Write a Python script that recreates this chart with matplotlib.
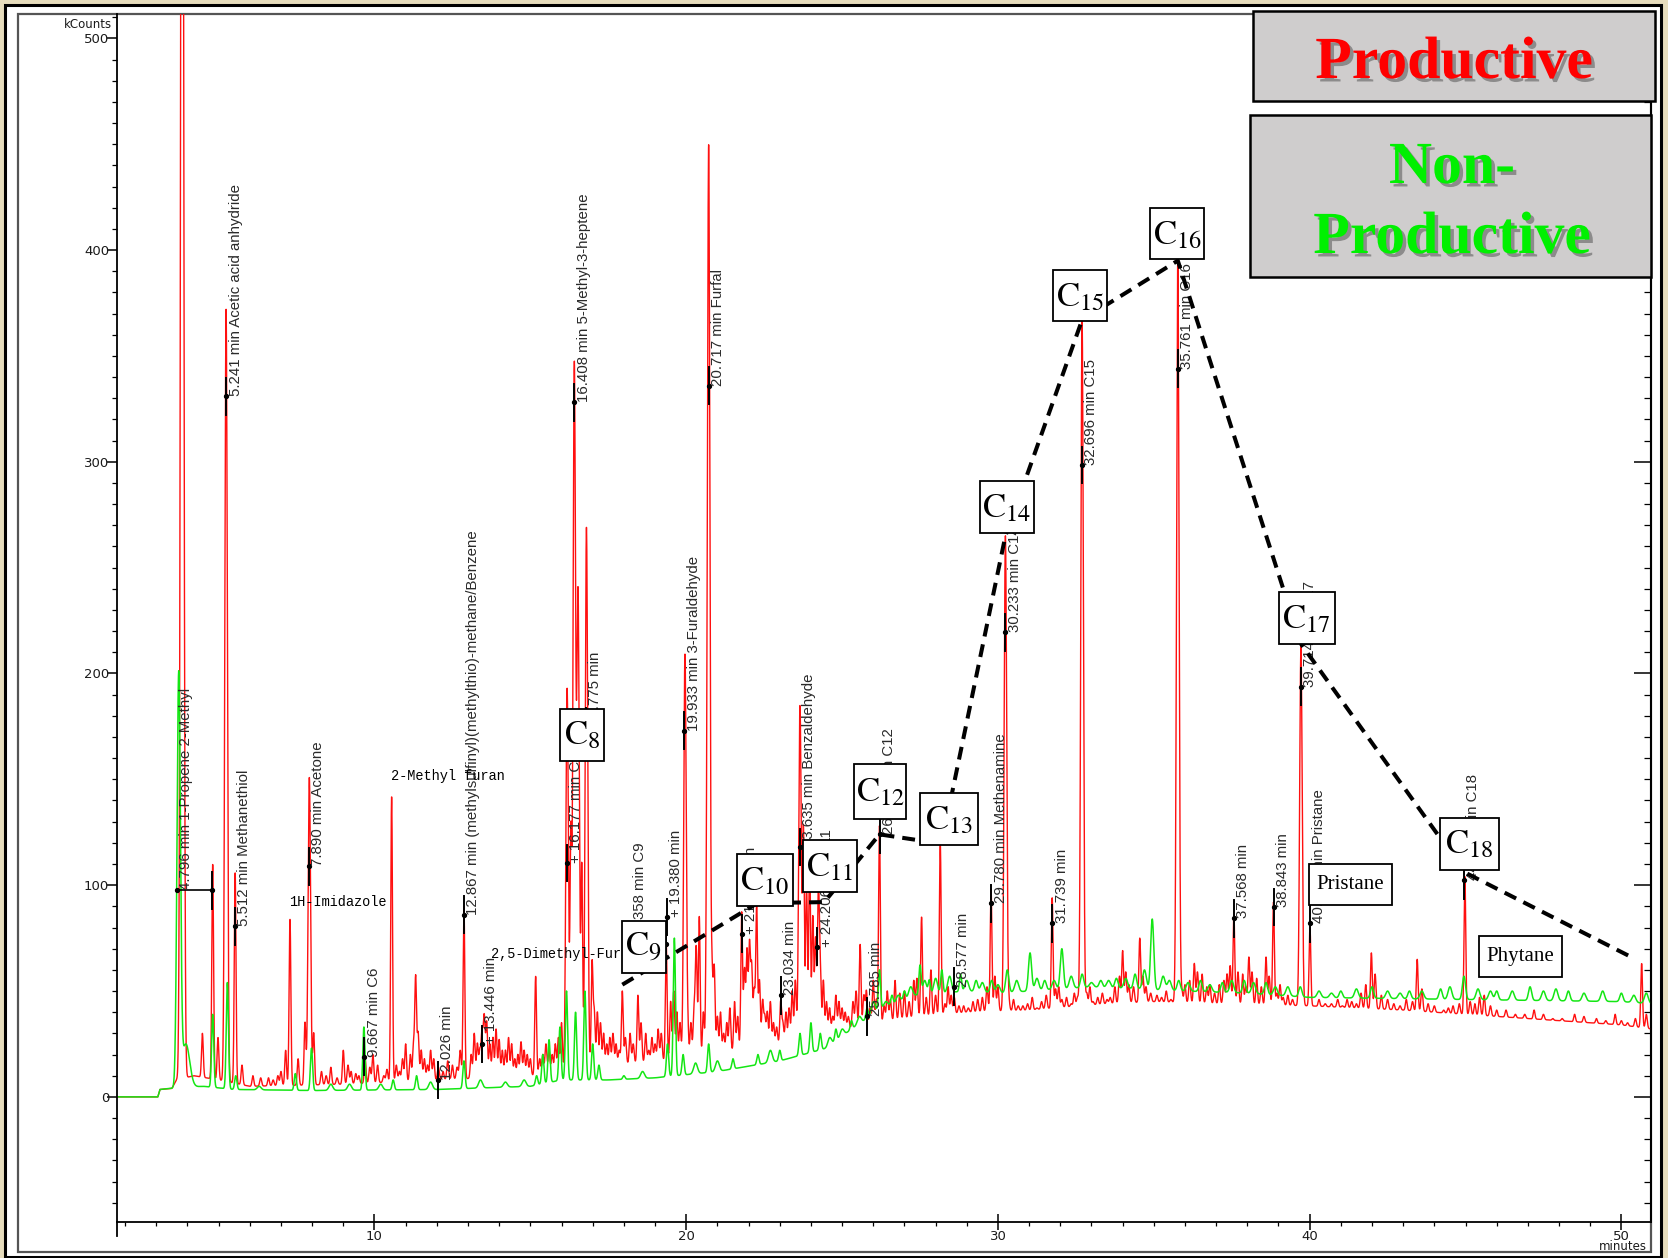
import numpy as np
import matplotlib
matplotlib.use("Agg")
import matplotlib.pyplot as plt
from matplotlib.patches import Rectangle
from matplotlib.lines import Line2D
from matplotlib.ticker import MultipleLocator
import matplotlib.patheffects as pe

plt.rcParams["mathtext.fontset"] = "stix"

# ---------------------------------------------------------------- data
# Productive sample (red): baseline knots (min, kCounts)
red_base_t = [1.74, 3.05, 3.12, 3.5, 3.65, 4.2, 5.0, 6.0, 9.0, 12.0, 15.0, 17.0, 20.0,
              23.0, 25.0, 27.0, 29.0, 31.0, 33.5, 35.0, 37.0, 40.0, 43.0, 46.0, 48.0,
              50.0, 51.0]
red_base_v = [0, 0, 3.5, 4, 8, 10, 8, 5, 6, 8, 10, 14, 18, 25, 32, 37, 40, 41, 44, 45,
              44, 43, 41, 38, 36, 34, 32]
# Productive sample, main peaks: retention time, apex (kCounts)
red_rt = [3.83, 4.48, 4.81, 4.98, 5.24, 5.53, 5.75, 6.10, 6.60, 6.90, 7.15, 7.29, 7.55,
          7.77, 7.91, 8.05, 8.30, 8.60, 9.00, 9.25, 9.50, 9.70, 9.95, 10.10, 10.55,
          10.80, 11.00, 11.15, 11.32, 11.50, 11.70, 11.90, 12.20, 12.50, 12.87, 13.10,
          13.30, 13.45, 13.60, 13.80, 14.00, 14.20, 14.40, 14.60, 14.80, 15.00, 15.17,
          15.40, 15.60, 15.80, 16.00, 16.18, 16.30, 16.41, 16.53, 16.65, 16.80, 16.98,
          17.15, 17.35, 17.55, 17.75, 17.95, 18.20, 18.45, 18.70, 18.90, 19.10, 19.36,
          19.50, 19.70, 19.96, 20.15, 20.42, 20.55, 20.72, 20.90, 21.10, 21.30, 21.55,
          21.78, 21.95, 22.10, 22.26, 22.45, 22.60, 22.80, 23.03, 23.20, 23.40, 23.65,
          23.76, 23.86, 23.96, 24.06, 24.24, 24.40, 24.60, 24.90, 25.10, 25.35, 25.58,
          25.78, 26.00, 26.20, 26.45, 26.70, 27.00, 27.30, 27.55, 27.85, 28.15, 28.40,
          28.60, 28.90, 29.20, 29.50, 29.78, 30.00, 30.24, 30.50, 30.80, 31.10, 31.40,
          31.74, 31.95, 32.20, 32.45, 32.70, 32.95, 33.20, 33.50, 33.75, 34.00, 34.20,
          34.55, 34.75, 35.10, 35.40, 35.77, 36.00, 36.30, 36.55, 36.80, 37.10, 37.35,
          37.57, 37.85, 38.05, 38.30, 38.60, 38.84, 39.05, 39.30, 39.72, 40.01, 40.30,
          40.70, 41.20, 41.50, 41.80, 41.98, 42.30, 42.70, 43.10, 43.45, 43.80, 44.30,
          44.60, 44.98, 45.30, 45.60, 46.00, 46.60, 47.20, 47.80, 48.50, 49.20, 49.80,
          50.20, 50.65]
red_apex = [900, 30, 110, 28, 372, 106, 15, 10, 9, 10, 22, 84, 18,
            35, 151, 30, 12, 14, 22, 12, 10, 18, 20, 15, 142,
            12, 25, 20, 56, 22, 15, 18, 12, 15, 90, 20,
            25, 30, 35, 28, 27, 22, 25, 20, 22, 18, 57,
            20, 22, 25, 35, 193, 120, 345, 237, 108, 269, 63,
            40, 30, 28, 25, 50, 30, 48, 30, 28, 32, 72,
            45, 40, 209, 35, 85, 40, 448, 60, 40, 35, 45,
            87, 68, 60, 90, 45, 40, 35, 45, 40, 50, 185,
            125, 100, 115, 85, 97, 55, 42, 45, 40, 45, 72,
            50, 55, 128, 50, 55, 50, 55, 85, 60, 120, 52,
            47, 43, 45, 47, 98, 52, 265, 46, 43, 47, 45,
            94, 52, 47, 49, 367, 52, 47, 46, 52, 69, 53,
            75, 52, 48, 50, 395, 53, 63, 58, 53, 53, 58,
            86, 58, 66, 56, 66, 92, 53, 48, 213, 80, 46,
            44, 46, 44, 53, 68, 48, 44, 46, 65, 44, 41,
            43, 104, 44, 48, 41, 39, 41, 37, 39, 37, 39,
            35, 63]
# Productive sample, unresolved background peaks
red_minor_rt = [6.35, 6.75, 7.00, 8.45, 8.80, 9.15, 9.40, 9.85, 10.30,
                10.40, 10.70, 10.90, 11.25, 11.40, 11.60, 11.80, 12.05, 12.35, 12.65,
                12.75, 13.20, 13.38, 13.52, 13.70, 13.90, 14.10, 14.30, 14.50, 14.70,
                14.90, 15.30, 15.50, 15.70, 15.90,
                17.05, 17.25, 17.45, 17.65, 17.85, 18.05, 18.30, 18.55, 18.80, 19.00,
                19.20, 19.60, 19.80, 20.05, 20.25, 20.32, 20.65, 20.83, 21.00, 21.20,
                21.40, 21.65,
                21.87, 22.03, 22.18, 22.35, 22.52, 22.70, 22.90, 23.10, 23.30, 23.50,
                24.15, 24.30, 24.50, 24.70, 24.80, 25.00, 25.20, 25.45, 25.70, 25.90,
                26.10, 26.35, 26.55, 26.85, 27.15, 27.40, 27.70, 28.00, 28.30, 28.50,
                28.75, 29.05, 29.35, 29.65, 29.90,
                30.35, 30.65, 30.95, 31.25, 31.55, 31.85, 32.05, 32.35, 32.55, 32.85,
                33.05, 33.35, 33.60, 33.90, 34.10, 34.35, 34.65, 34.90, 35.25, 35.55,
                35.90, 36.15, 36.40, 36.70, 36.95, 37.25, 37.45, 37.70, 37.95, 38.15,
                38.45, 38.70, 38.95, 39.15, 39.45,
                40.50, 40.90, 41.05, 41.35, 41.65, 42.10, 42.50, 42.90, 43.30, 43.60,
                44.00, 44.45, 44.80, 45.15, 45.45, 45.80, 46.30, 46.90, 47.50, 48.10,
                48.80, 49.50, 50.00, 50.45, 50.80]
red_minor_apex = [9, 8, 12, 10, 9, 15, 11, 14, 10,
                  13, 15, 18, 24, 30, 18, 22, 14, 17, 14,
                  22, 30, 22, 38, 25, 32, 22, 28, 18, 26,
                  20, 18, 25, 20, 28,
                  40, 35, 25, 30, 22, 28, 25, 35, 22, 25,
                  30, 50, 35, 30, 40, 70, 45, 55, 38, 30,
                  42, 38,
                  60, 72, 50, 55, 38, 45, 33, 35, 42, 55,
                  75, 60, 45, 38, 48, 42, 38, 50, 48, 42,
                  46, 43, 46, 49, 45, 56, 47, 48, 44, 48,
                  43, 42, 46, 52, 57,
                  45, 43, 44, 42, 48, 51, 46, 44, 47, 49,
                  45, 49, 47, 57, 59, 52, 57, 49, 47, 46,
                  50, 55, 59, 52, 49, 55, 62, 59, 52, 59,
                  52, 57, 49, 47, 46,
                  44, 46, 43, 45, 49, 58, 46, 43, 45, 51,
                  43, 42, 44, 45, 47, 43, 41, 39, 39, 37,
                  38, 36, 36, 37, 39]

# Non-productive sample (green)
green_base_t = [1.74, 3.05, 3.12, 3.45, 4.5, 5.5, 8.0, 12.0, 15.0, 16.0, 17.5, 19.0,
                21.0, 23.0, 24.5, 25.3, 26.3, 27.3, 29.0, 30.0, 33.0, 36.0, 38.0, 40.0,
                45.0, 50.0, 51.0]
green_base_v = [0, 0, 3.5, 4, 5, 3.5, 3, 3.5, 5, 8, 8, 9, 12, 17, 23, 32, 42, 48, 50,
                49, 52, 50, 49, 47, 46, 45, 44]
green_rt = [3.72, 3.95, 4.81, 5.28, 5.55, 7.46, 7.98, 9.66, 10.60, 11.35, 12.87, 15.20,
            15.40, 15.60, 15.95, 16.16, 16.45, 16.75, 17.00, 17.20, 18.00, 19.40, 19.62,
            19.90, 20.72, 21.50, 22.30, 23.00, 23.65, 24.00, 24.30, 24.80, 25.30, 25.80,
            26.20, 26.60, 27.00, 27.50, 27.80, 28.20, 28.80, 29.30, 29.80, 30.30, 31.03,
            31.50, 32.05, 32.70, 33.30, 33.80, 34.40, 34.95, 35.80, 36.50, 37.20, 37.90,
            38.60, 39.70, 41.00, 42.00, 43.20, 44.20, 44.95, 46.00, 47.07, 48.30, 50.00]
green_apex = [198, 25, 39, 54, 10, 11, 23, 33, 8, 10, 17, 10,
              20, 27, 33, 50, 40, 50, 25, 15, 10, 25, 75,
              20, 25, 18, 20, 22, 30, 35, 30, 32, 36, 42,
              60, 48, 50, 62, 55, 60, 58, 55, 55, 60, 68,
              55, 70, 58, 55, 56, 58, 84, 55, 55, 54, 55,
              54, 52, 50, 52, 50, 51, 57, 50, 52, 50, 49]
green_minor_rt = [6.3, 8.6, 9.2, 10.2, 11.8, 13.4, 14.2, 14.8, 18.6, 20.3, 21.0, 22.7,
                  24.6, 25.0, 25.55, 26.0, 26.4, 26.8, 27.2, 27.65, 28.0, 28.45, 29.0,
                  29.5, 30.0, 30.6, 31.25, 31.8, 32.35, 33.0, 33.55, 34.1, 34.7, 35.3,
                  35.5, 36.1, 36.8, 37.5, 38.2, 38.9, 39.3, 40.3, 40.7, 41.5, 42.5,
                  42.9, 43.6, 44.5, 45.4, 45.8, 46.5, 47.5, 47.9, 48.8, 49.4, 50.4, 50.8]
green_minor_apex = [5, 6, 6, 6, 7, 8, 7, 8, 12, 16, 17, 22,
                    28, 32, 38, 45, 45, 48, 52, 55, 56, 57, 55,
                    54, 53, 55, 56, 55, 57, 54, 55, 56, 60, 57,
                    55, 54, 53, 55, 54, 52, 52, 50, 49, 51, 50,
                    49, 50, 52, 51, 50, 50, 50, 51, 49, 50, 48, 49]

# Annotated peaks: marker position, text anchor, text
mark_rt = [4.796, 5.241, 5.512, 7.890, 9.667, 12.026, 12.867, 13.446, 16.408, 16.177,
           16.775, 19.358, 19.380, 19.933, 20.717, 21.780, 23.034, 23.635, 24.206,
           25.785, 26.218, 28.577, 29.780, 30.233, 31.739, 32.696, 35.761, 37.568,
           38.843, 39.714, 40.012, 44.951]
mark_v = [97.5, 331, 80.5, 109, 19, 8, 86, 25, 328, 110.5,
          175, 72, 85, 173, 336, 77, 48, 118, 71,
          38, 124, 52, 91.4, 219.5, 82, 298.5, 344, 84.4,
          89.7, 193.7, 82, 102.4]
text_rt = [3.65, 5.241, 5.512, 7.890, 9.667, 12.026, 12.867, 13.446, 16.408, 16.177,
           16.775, 18.21, 19.380, 19.933, 20.717, 21.780, 23.034, 23.635, 24.206,
           25.785, 26.218, 28.577, 29.780, 30.233, 31.739, 32.696, 35.761, 37.568,
           38.843, 39.714, 40.012, 44.951]
text_v = [97.5, 331, 80.5, 109, 19, 8, 86, 25, 328, 110.5,
          175, 74, 85, 173, 336, 77, 48, 118, 71,
          38, 124, 52, 91.4, 219.5, 82, 298.5, 344, 84.4,
          89.7, 193.7, 82, 102.4]
peak_labels = ["4.796 min 1-Propene 2-Methyl", "5.241 min Acetic acid anhydride",
               "5.512 min Methanethiol", "7.890 min Acetone", "9.667 min C6",
               "12.026 min",
               "12.867 min (methylsulfinyl)(methylthio)-methane/Benzene",
               "+ 13.446 min", "16.408 min 5-Methyl-3-heptene", "+ 16.177 min C8",
               "16.775 min", "19.358 min C9", "+ 19.380 min",
               "19.933 min 3-Furaldehyde", "20.717 min Furfal", "+ 21.780 min",
               "23.034 min", "23.635 min Benzaldehyde", "+ 24.206 min C11",
               "25.785 min", "26.218 min C12", "28.577 min", "29.780 min Methenamine",
               "30.233 min C14", "31.739 min", "32.696 min C15", "35.761 min C16",
               "37.568 min", "38.843 min", "39.714 min C17", "40.012 min Pristane",
               "44.951 min C18"]

# Library-search names printed across the trace
lib_names = ["1H-Imidazole", "2-Methyl furan", "2,5-Dimethyl-Furan"]
lib_t = [7.26, 10.53, 13.73]
lib_v = [92.2, 151.6, 67.5]

# n-alkane envelope
env_t = [17.95, 22.28, 24.43, 26.2, 28.19, 30.24, 32.7, 35.77, 39.72, 44.98, 50.39]
env_v = [53, 91.5, 92, 124, 119.6, 265, 367, 395, 214, 106, 65.5]

# Carbon-number tags and biomarker tags
cn_names = ["8", "9", "10", "11", "12", "13", "14", "15", "16", "17", "18"]
cn_t = [16.67, 18.63, 22.52, 24.61, 26.23, 28.44, 30.29, 32.64, 35.75, 39.91, 45.13]
cn_v = [171.1, 70.6, 102.5, 109.1, 144.2, 131.2, 278.4, 378.4, 407.6, 226.1, 119.6]
bio_names = ["Pristane", "Phytane"]
bio_t = [41.30, 46.76]
bio_v = [100.5, 66.3]

# ---------------------------------------------------------------- figure
W, H = 1668, 1258
fig = plt.figure(figsize=(W / 100, H / 100), dpi=100)
fig.patch.set_facecolor("#e7ddbd")


def fx(px):
    return px / W


def fy(py):
    return 1 - py / H


# white sheet and instrument window frame
fig.add_artist(Rectangle((fx(5), fy(1257)), (1661 - 5) / W, (1257 - 5) / H,
                         transform=fig.transFigure, fc="white", ec="black", lw=2.2,
                         zorder=-3))
fig.add_artist(Rectangle((fx(18), fy(1252)), (1651 - 18) / W, (1252 - 14) / H,
                         transform=fig.transFigure, fc="none", ec="#555555", lw=1.6,
                         zorder=-2))

XMIN, XMAX = 1.74, 50.95
YMIN, YMAX = -59.1, 511.5
AX_L, AX_R, AX_T, AX_B = 117, 1651, 14, 1222
ax = fig.add_axes([fx(AX_L), fy(AX_B), (AX_R - AX_L) / W, (AX_B - AX_T) / H])
ax.set_facecolor("none")
ax.set_xlim(XMIN, XMAX)
ax.set_ylim(YMIN, YMAX)
ax.spines["top"].set_visible(False)
for s in ("left", "bottom", "right"):
    ax.spines[s].set_linewidth(1.3)
    ax.spines[s].set_color("black")

px_min = (AX_R - AX_L) / (XMAX - XMIN)
px_unit = (AX_B - AX_T) / (YMAX - YMIN)

ax.xaxis.set_major_locator(MultipleLocator(10))
ax.xaxis.set_minor_locator(MultipleLocator(1))
ax.yaxis.set_major_locator(MultipleLocator(100))
ax.yaxis.set_minor_locator(MultipleLocator(10))
ax.tick_params(axis="x", which="major", direction="inout", length=11, width=1.1,
               pad=0, labelsize=9.5, labelcolor="#1a1a1a")
ax.tick_params(axis="x", which="minor", direction="out", length=3, width=0.9)
ax.tick_params(axis="y", which="major", direction="out", length=7.2, width=1.1,
               pad=-1.5, labelsize=9.5, labelcolor="#1a1a1a")
ax.tick_params(axis="y", which="minor", direction="out", length=3.6, width=0.9)

sec = ax.secondary_yaxis("right")
sec.yaxis.set_major_locator(MultipleLocator(100))
sec.yaxis.set_minor_locator(MultipleLocator(10))
sec.tick_params(which="major", direction="in", length=12, width=1.1, labelright=False)
sec.tick_params(which="minor", direction="in", length=4.8, width=0.9)
sec.spines["right"].set_linewidth(1.3)

# y spine runs a little below the time axis
fig.add_artist(Line2D([fx(AX_L), fx(AX_L)], [fy(AX_B), fy(1236)],
                      transform=fig.transFigure, color="black", lw=1.3))
fig.text(fx(112), fy(25), "kCounts", ha="right", va="center", fontsize=8.5,
         color="#1a1a1a")
fig.text(fx(1623), fy(1246), "minutes", ha="center", va="center", fontsize=8.5,
         color="#1a1a1a")

# ---------------------------------------------------------------- traces
t = np.arange(XMIN, XMAX + 0.01, 0.004)


def trace(bt, bv, peaks):
    base = np.interp(t, bt, bv)
    y = base.copy()
    for r, a, w in peaks:
        amp = max(a - np.interp(r, bt, bv), 0)
        y += amp * np.exp(-0.5 * ((t - r) / w) ** 2)
    return y


red_peaks = [(r, a, 0.045 if a > 500 else (0.04 if a > 150 else 0.028))
             for r, a in zip(red_rt, red_apex)]
red_peaks += [(r, a, 0.03) for r, a in zip(red_minor_rt, red_minor_apex)]
green_peaks = [(r, a, 0.05 if r > 29 else 0.035) for r, a in zip(green_rt, green_apex)]
green_peaks[0] = (green_rt[0], green_apex[0], 0.055)
green_peaks[1] = (green_rt[1], green_apex[1], 0.12)
green_peaks += [(r, a, 0.06) for r, a in zip(green_minor_rt, green_minor_apex)]

red = trace(red_base_t, red_base_v, red_peaks)
green = trace(green_base_t, green_base_v, green_peaks)
ax.plot(t, red, color="#ff1010", lw=1.0, zorder=2)
ax.plot(t, green, color="#14e614", lw=1.1, zorder=2.2)

# ---------------------------------------------------------------- peak labels
half_bar = 8.7
ax.plot([text_rt[0], mark_rt[0]], [mark_v[0], mark_v[0]], color="black", lw=1.2,
        zorder=3)
ax.plot(text_rt[0], mark_v[0], "o", ms=2.8, color="black", zorder=3)
for mt, mv, tt, tv, txt in zip(mark_rt, mark_v, text_rt, text_v, peak_labels):
    ax.plot([mt, mt], [mv - half_bar, mv + half_bar], color="black", lw=1.4, zorder=3)
    ax.plot(mt, mv, "o", ms=2.8, color="black", zorder=3)
    ax.annotate(txt, xy=(tt, tv), xytext=(6.8, 0), textcoords="offset points",
                rotation=90, rotation_mode="anchor", ha="left", va="center",
                fontsize=10.8, family=["Liberation Sans", "DejaVu Sans"],
                color="#2a2a2a", zorder=3)

for name, lt, lv in zip(lib_names, lib_t, lib_v):
    ax.text(lt, lv, name, ha="left", va="center", fontsize=9.8,
            family="Liberation Mono", color="black", zorder=3.5)

# n-alkane envelope
ax.plot(env_t, env_v, color="black", lw=2.9, ls=(0, (3.2, 2.0)), zorder=4,
        dash_capstyle="butt")


def tag(ct, cv, wpx, hpx, txt, size, fam=None):
    w = wpx / px_min
    h = hpx / px_unit
    ax.add_patch(Rectangle((ct - w / 2, cv - h / 2), w, h, fc="white", ec="black",
                           lw=1.3, zorder=6))
    kw = {"family": fam} if fam else {}
    ax.text(ct, cv, txt, ha="center", va="center", fontsize=size, color="black",
            zorder=7, **kw)


cn_w = [44, 44, 56, 54, 52, 58, 54, 54, 54, 56, 59]
cn_h = [52, 52, 52, 52, 55, 52, 52, 51, 51, 52, 52]
for n, ct, cv, wp, hp in zip(cn_names, cn_t, cn_v, cn_w, cn_h):
    tag(ct, cv, wp, hp, r"$\mathrm{C}_{%s}$" % n, 25)
for name, ct, cv in zip(bio_names, bio_t, bio_v):
    tag(ct, cv, 83, 41, name, 15, "Liberation Serif")

# ---------------------------------------------------------------- sample key
shadow = [pe.SimplePatchShadow(offset=(2.5, -2.5), shadow_rgbFace="#555555", alpha=0.55),
          pe.Normal()]
fig.add_artist(Rectangle((fx(1253), fy(101)), (1655 - 1253) / W, (101 - 11) / H,
                         transform=fig.transFigure, fc="#cfcdcd", ec="black", lw=1.8,
                         zorder=8))
fig.add_artist(Rectangle((fx(1250), fy(277)), (1651 - 1250) / W, (277 - 115) / H,
                         transform=fig.transFigure, fc="#cfcdcd", ec="black", lw=1.8,
                         zorder=8))
fig.text(fx(1454), fy(78), "Productive", ha="center", va="baseline", fontsize=43,
         fontweight="bold", family="Liberation Serif", color="#ff0000", zorder=9,
         path_effects=shadow)
fig.text(fx(1452), fy(183), "Non-", ha="center", va="baseline", fontsize=43,
         fontweight="bold", family="Liberation Serif", color="#00f000", zorder=9,
         path_effects=shadow)
fig.text(fx(1452), fy(253), "Productive", ha="center", va="baseline", fontsize=43,
         fontweight="bold", family="Liberation Serif", color="#00f000", zorder=9,
         path_effects=shadow)

fig.savefig("out.png", dpi=100, facecolor=fig.get_facecolor())
